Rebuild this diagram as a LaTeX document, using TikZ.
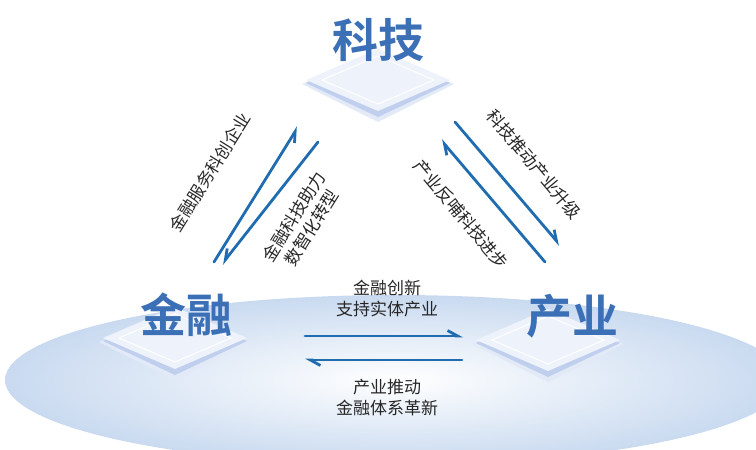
\documentclass[tikz,border=0pt]{standalone}
\usepackage{fontspec}
\setmainfont{Noto Sans CJK SC}[BoldFont={Noto Sans CJK SC Bold}]
\usetikzlibrary{arrows.meta,calc}
\definecolor{titleblue}{HTML}{3B6FB6}
\definecolor{arrowblue}{HTML}{1F6DB0}
\definecolor{plate}{HTML}{EEF2FA}
\definecolor{plateshade}{HTML}{AFC3E8}
\definecolor{ellblue}{HTML}{C9DAF0}
\tikzset{
  title/.style={font=\fontsize{46}{46}\selectfont\bfseries, text=titleblue},
  lab/.style={font=\fontsize{17}{21}\selectfont, text=black!85, align=center},
  flow/.style={draw=arrowblue, line width=2.8pt, line cap=round},
  hl/.style={-{Straight Barb[left,length=10pt,width=11pt]}},
  hr/.style={-{Straight Barb[right,length=10pt,width=11pt]}},
}
\newcommand{\plateat}[2]{%
  \fill[plateshade!35] ($(#1,#2)+(-76,4)$) -- ($(#1,#2)+(0,42)$) -- ($(#1,#2)+(76,4)$) -- ($(#1,#2)+(0,-28)$) -- cycle;
  \fill[plateshade!80] ($(#1,#2)+(-72,3)$) -- ($(#1,#2)+(0,37)$) -- ($(#1,#2)+(72,3)$) -- ($(#1,#2)+(0,-28)$) -- cycle;
  \fill[plate] ($(#1,#2)+(-72,0)$) -- ($(#1,#2)+(0,31)$) -- ($(#1,#2)+(72,0)$) -- ($(#1,#2)+(0,-31)$) -- cycle;
  \draw[white, line width=1pt] ($(#1,#2)+(-56,0)$) -- ($(#1,#2)+(0,24)$) -- ($(#1,#2)+(56,0)$) -- ($(#1,#2)+(0,-24)$) -- cycle;
}
\begin{document}
\begin{tikzpicture}[x=1pt,y=-1pt]
\useasboundingbox (0,0) rectangle (756,450);
\begin{scope}
\clip (0,0) rectangle (756,450);
\shade[inner color=white, outer color=ellblue] (395,380) ellipse [x radius=390, y radius=85];
\end{scope}
\plateat{378}{80}
\plateat{175}{338}
\plateat{548}{340}
\node[title] (kj) at (378,40) {科技};
\node[title] (jr) at (186,315) {金融};
\node[title] (cy) at (572,316) {产业};
% left pair
\coordinate (l1s) at (214,262); \coordinate (l1e) at (298,127);
\coordinate (l2s) at (318,142); \coordinate (l2e) at (222,264);
\draw[flow,hr] (l1s) -- (l1e);
\draw[flow,hr] (l2s) -- (l2e);
\node[lab, rotate=58] (t1) at (210,172) {金融服务科创企业};
\node[lab, rotate=58] (t2) at (303,222) {金融科技助力\\数智化转型};
% right pair
\coordinate (r1s) at (455,122); \coordinate (r1e) at (560,245);
\coordinate (r2s) at (545,262); \coordinate (r2e) at (441,140);
\draw[flow,hl] (r1s) -- (r1e);
\draw[flow,hl] (r2s) -- (r2e);
\node[lab, rotate=-50] (t3) at (534,164) {科技推动产业升级};
\node[lab, rotate=-50] (t4) at (461,214) {产业反哺科技进步};
% bottom pair
\coordinate (b1s) at (305,336); \coordinate (b1e) at (463,336);
\coordinate (b2s) at (462,360); \coordinate (b2e) at (305,360);
\draw[flow,hl] (b1s) -- (b1e);
\draw[flow,hl] (b2s) -- (b2e);
\node[lab] (t5) at (387,299) {金融创新\\支持实体产业};
\node[lab] (t6) at (387,398) {产业推动\\金融体系革新};
\end{tikzpicture}
\end{document}
